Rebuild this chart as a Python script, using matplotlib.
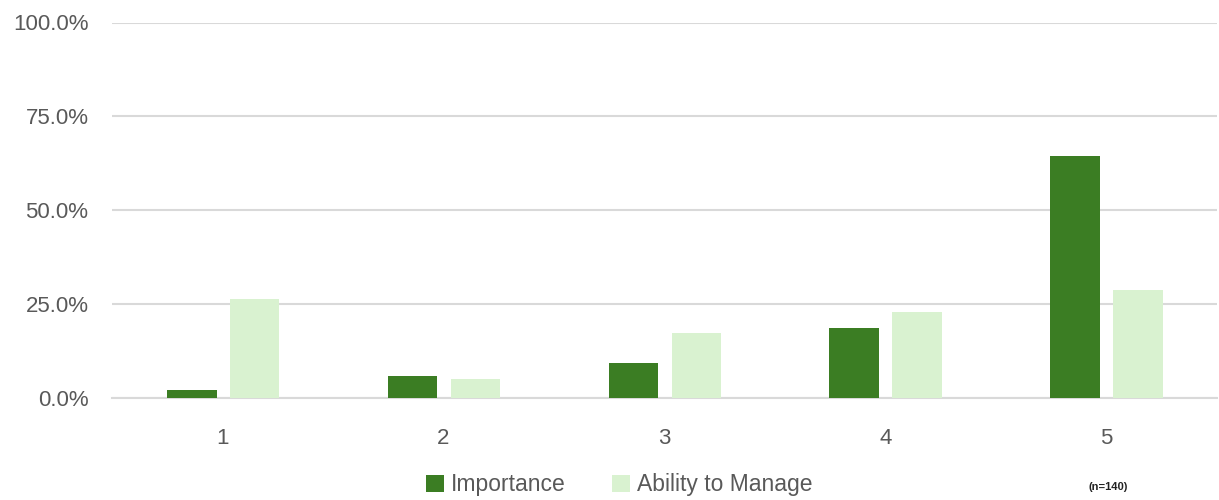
import numpy as np
import matplotlib.pyplot as plt
from matplotlib.ticker import PercentFormatter

# survey ratings, share of respondents per score (n=140)
ratings = ['1', '2', '3', '4', '5']
importance = [2.1, 5.7, 9.3, 18.6, 64.3]
ability = [26.4, 5.0, 17.1, 22.9, 28.6]

dark_green = '#3b7d23'
light_green = '#d9f2d0'
text_gray = '#595959'

plt.rcParams['font.family'] = ['Liberation Sans', 'DejaVu Sans']

fig = plt.figure(figsize=(12.19, 5), dpi=100)
ax = fig.add_axes([0.092, 0.205, 0.906, 0.75])

x = np.arange(len(ratings))
w = 0.225
ax.bar(x - 0.14, importance, w, color=dark_green, label='Importance', zorder=3)
ax.bar(x + 0.145, ability, w, color=light_green, label='Ability to Manage', zorder=3)

ax.set_xlim(-0.5, len(ratings) - 0.5)
ax.set_ylim(0, 100)
ax.set_yticks([0, 25, 50, 75, 100])
ax.yaxis.set_major_formatter(PercentFormatter(decimals=1))
ax.set_xticks(x)
ax.set_xticklabels(ratings)
ax.grid(axis='y', color='#d9d9d9', linewidth=1.5, zorder=0)
ax.set_axisbelow(True)

for s in ['top', 'right', 'left']:
    ax.spines[s].set_visible(False)
ax.spines['bottom'].set_color('#d9d9d9')
ax.spines['bottom'].set_linewidth(1.5)
ax.tick_params(axis='both', length=0, labelsize=16, colors=text_gray)
ax.tick_params(axis='y', pad=17)
ax.tick_params(axis='x', pad=22)

leg = fig.legend(loc='center', bbox_to_anchor=(0.508, 0.03), ncol=2, frameon=False,
                 fontsize=16.5, handlelength=0.8, handleheight=0.8, handletextpad=0.3,
                 columnspacing=2.0, labelcolor=text_gray)

fig.text(0.909, 0.026, '(n=140)', fontsize=8, fontweight='bold', color='#222222',
         ha='center', va='center')

fig.savefig('out.png', dpi=100)
